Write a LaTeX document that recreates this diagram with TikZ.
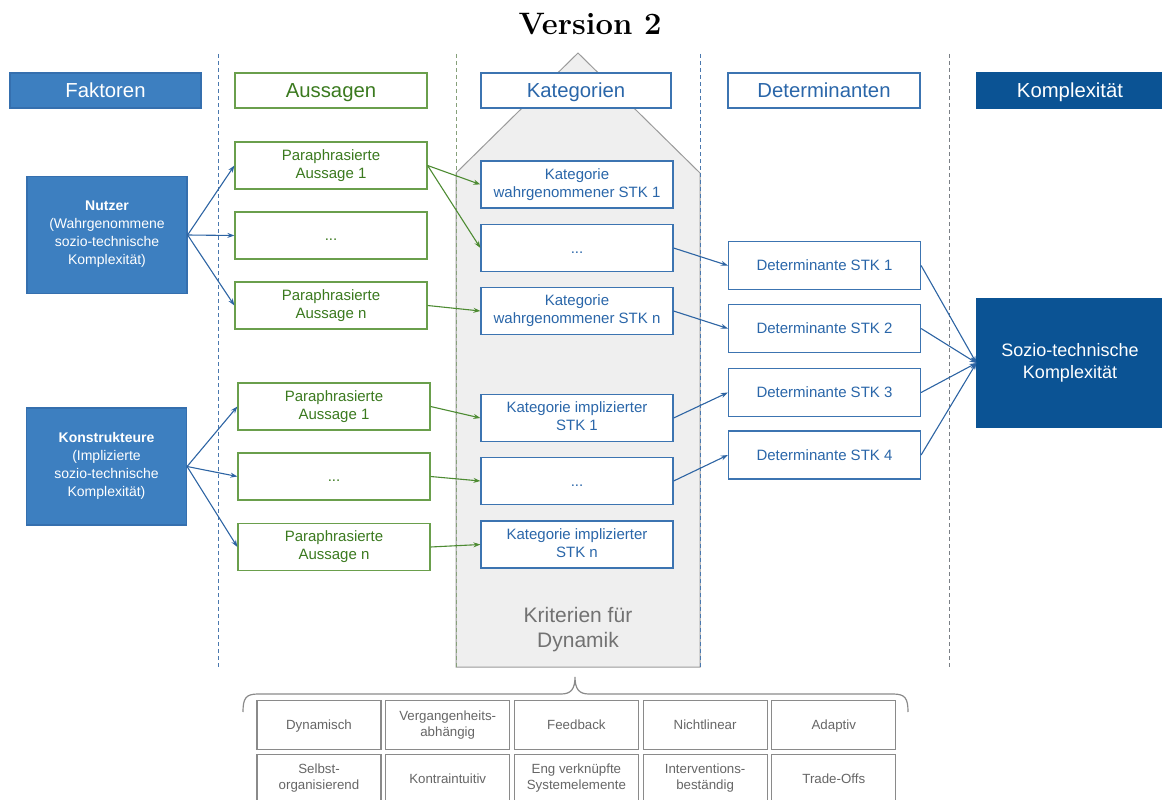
\documentclass[tikz,border=0pt]{standalone}
\usepackage{fontspec}
\newfontfamily\arial{Liberation Sans}
\usetikzlibrary{arrows.meta}

\definecolor{fillblue}{HTML}{3D7FC0}
\definecolor{fillblueedge}{HTML}{356FAE}
\definecolor{darkblue}{HTML}{0B5394}
\definecolor{txtblue}{HTML}{2A66A9}
\definecolor{borderblue}{HTML}{3C74B1}
\definecolor{arrowblue}{HTML}{2D64A3}
\definecolor{txtgreen}{HTML}{3B7A1F}
\definecolor{bordergreen}{HTML}{6A9F4C}
\definecolor{arrowgreen}{HTML}{4D8B32}
\definecolor{gridgray}{HTML}{8A8A8A}
\definecolor{gridtext}{HTML}{666666}
\definecolor{housefill}{HTML}{EFEFEF}
\definecolor{houseedge}{HTML}{9A9A9A}
\definecolor{housetext}{HTML}{727272}
\definecolor{sepblue}{HTML}{4A78AE}
\definecolor{sepgreen}{HTML}{86A07A}
\definecolor{sepgray}{HTML}{7A7F85}

% invisible rule that centres capital letters in a line: #1 depth, #2 line height
\newcommand\capline[2]{\rule[-#1pt]{0pt}{#2pt}}

\begin{document}
\begin{tikzpicture}[x=1pt,y=-1pt,
  box/.style={rectangle, inner sep=0pt, align=center, line width=1.2pt},
  lines/.style 2 args={execute at begin node={\capline{#1}{#2}},
    execute at end node={\capline{#1}{#2}}},
  header/.style={box, minimum height=35pt, font=\arial\fontsize{20.3}{24}\selectfont,
    lines={4.75}{24}},
  item/.style={box, fill=white, minimum width=192pt, minimum height=47pt,
    font=\arial\fontsize{15}{18}\selectfont, lines={3.63}{18}},
  greenitem/.style={item, draw=bordergreen, text=txtgreen},
  blueitem/.style={item, draw=borderblue, text=txtblue},
  factor/.style={box, fill=fillblue, draw=fillblueedge, text=white,
    minimum width=160pt, minimum height=117pt, font=\arial\fontsize{14}{18}\selectfont,
    lines={3.99}{18}},
  crit/.style={box, draw=gridgray, text=gridtext, fill=white, minimum width=124pt,
    minimum height=48.5pt, font=\arial\fontsize{13.3}{16}\selectfont, lines={3.25}{16}},
  sep/.style={line width=1pt, dash pattern=on 4pt off 3pt},
  arr/.style={-{Stealth[length=7pt,width=5pt]}, line width=1.1pt},
]
\useasboundingbox (0,0) rectangle (1162,800);
\clip (0,0) rectangle (1162,800);

% title
\node[anchor=base, font=\fontsize{31}{36}\selectfont\bfseries] (title) at (590,35) {Version 2};

% house-shaped background of the category column
\draw[fill=housefill, draw=houseedge, line width=1pt]
  (456,173) -- (578,53) -- (700,173) -- (700,667) -- (456,667) -- cycle;
\node[box, text=housetext, font=\arial\fontsize{21}{25}\selectfont, lines={4.98}{25}]
  (krit) at (578,630) {Kriterien für\\Dynamik};

% column separators
\draw[sep, sepblue] (218,54) -- (218,668);
\draw[sep, sepgreen] (456,54) -- (456,668);
\draw[sep, sepblue] (700,54) -- (700,668);
\draw[sep, sepgray] (949,54) -- (949,668);

% column headers
\node[header, fill=fillblue, draw=fillblueedge, text=white, minimum width=191pt] (hF) at (105.5,90.5) {Faktoren};
\node[header, fill=white, draw=bordergreen, text=txtgreen, minimum width=192pt] (hA) at (331,90.5) {Aussagen};
\node[header, fill=white, draw=borderblue, text=txtblue, minimum width=190pt] (hK) at (576,90.5) {Kategorien};
\node[header, fill=white, draw=borderblue, text=txtblue, minimum width=192pt] (hD) at (824,90.5) {Determinanten};
\node[header, fill=darkblue, draw=darkblue, text=white, minimum width=186pt] (hC) at (1070,90.5) {Komplexität};

% factors
\node[factor] (nutzer) at (107,235) {{\bfseries Nutzer}\\(Wahrgenommene\\sozio-technische\\Komplexität)};
\node[factor] (konst) at (106.5,466.5) {{\bfseries Konstrukteure}\\(Implizierte\\sozio-technische\\Komplexität)};

% statements
\node[greenitem] (a1) at (331,165.5) {Paraphrasierte\\Aussage 1};
\node[greenitem] (a2) at (331,235.5) {...};
\node[greenitem] (a3) at (331,305.5) {Paraphrasierte\\Aussage n};
\node[greenitem] (b1) at (334,406.5) {Paraphrasierte\\Aussage 1};
\node[greenitem] (b2) at (334,476.5) {...};
\node[greenitem] (b3) at (334,547) {Paraphrasierte\\Aussage n};

% categories
\node[blueitem] (k1) at (577,184.5) {Kategorie\\wahrgenommener STK 1};
\node[blueitem] (k2) at (577,248) {...};
\node[blueitem] (k3) at (577,311) {Kategorie\\wahrgenommener STK n};
\node[blueitem] (m1) at (577,418) {Kategorie implizierter\\STK 1};
\node[blueitem] (m2) at (577,481) {...};
\node[blueitem] (m3) at (577,544.5) {Kategorie implizierter\\STK n};

% determinants
\node[blueitem, minimum height=48pt] (d1) at (824.5,265.5) {Determinante STK 1};
\node[blueitem, minimum height=48pt] (d2) at (824.5,328.5) {Determinante STK 2};
\node[blueitem, minimum height=48pt] (d3) at (824.5,392.5) {Determinante STK 3};
\node[blueitem, minimum height=48pt] (d4) at (824.5,455) {Determinante STK 4};

% result
\node[box, fill=darkblue, draw=darkblue, text=white, minimum width=186pt, minimum height=128pt,
  font=\arial\fontsize{18}{22}\selectfont, lines={4.56}{22}] (stk) at (1070,363) {Sozio-technische\\Komplexität};

% connectors
\foreach \t in {a1,a2,a3} \draw[arr, arrowblue] (nutzer.east) -- (\t.west);
\foreach \t in {b1,b2,b3} \draw[arr, arrowblue] (konst.east) -- (\t.west);
\draw[arr, arrowgreen] (a1.east) -- (k1.west);
\draw[arr, arrowgreen] (a1.east) -- (k2.west);
\draw[arr, arrowgreen] (a3.east) -- (k3.west);
\draw[arr, arrowgreen] (b1.east) -- (m1.west);
\draw[arr, arrowgreen] (b2.east) -- (m2.west);
\draw[arr, arrowgreen] (b3.east) -- (m3.west);
\draw[arr, arrowblue] (k2.east) -- (d1.west);
\draw[arr, arrowblue] (k3.east) -- (d2.west);
\draw[arr, arrowblue] (m1.east) -- (d3.west);
\draw[arr, arrowblue] (m2.east) -- (d4.west);
\foreach \s in {d1,d2,d3,d4} \draw[arr, arrowblue] (\s.east) -- (stk.west);

% brace over the criteria
\coordinate (brL) at (243,712);
\coordinate (brT) at (575,677);
\coordinate (brR) at (908,712);
\draw[gridgray, line width=1.2pt]
  (brL) .. controls (243,698) and (246,694) .. (258,694) -- (561,694)
  .. controls (571,694) and (575,689) .. (brT)
  .. controls (575,689) and (579,694) .. (589,694) -- (893,694)
  .. controls (905,694) and (908,698) .. (brR);

% criteria grid
\node[crit] (c11) at (319,725) {Dynamisch};
\node[crit] (c12) at (447.7,725) {Vergangenheits-\\abhängig};
\node[crit] (c13) at (576.4,725) {Feedback};
\node[crit] (c14) at (705.1,725) {Nichtlinear};
\node[crit] (c15) at (833.8,725) {Adaptiv};
\node[crit] (c21) at (319,778.5) {Selbst-\\organisierend};
\node[crit] (c22) at (447.7,778.5) {Kontraintuitiv};
\node[crit] (c23) at (576.4,778.5) {Eng verknüpfte\\Systemelemente};
\node[crit] (c24) at (705.1,778.5) {Interventions-\\beständig};
\node[crit] (c25) at (833.8,778.5) {Trade-Offs};
\end{tikzpicture}
\end{document}
